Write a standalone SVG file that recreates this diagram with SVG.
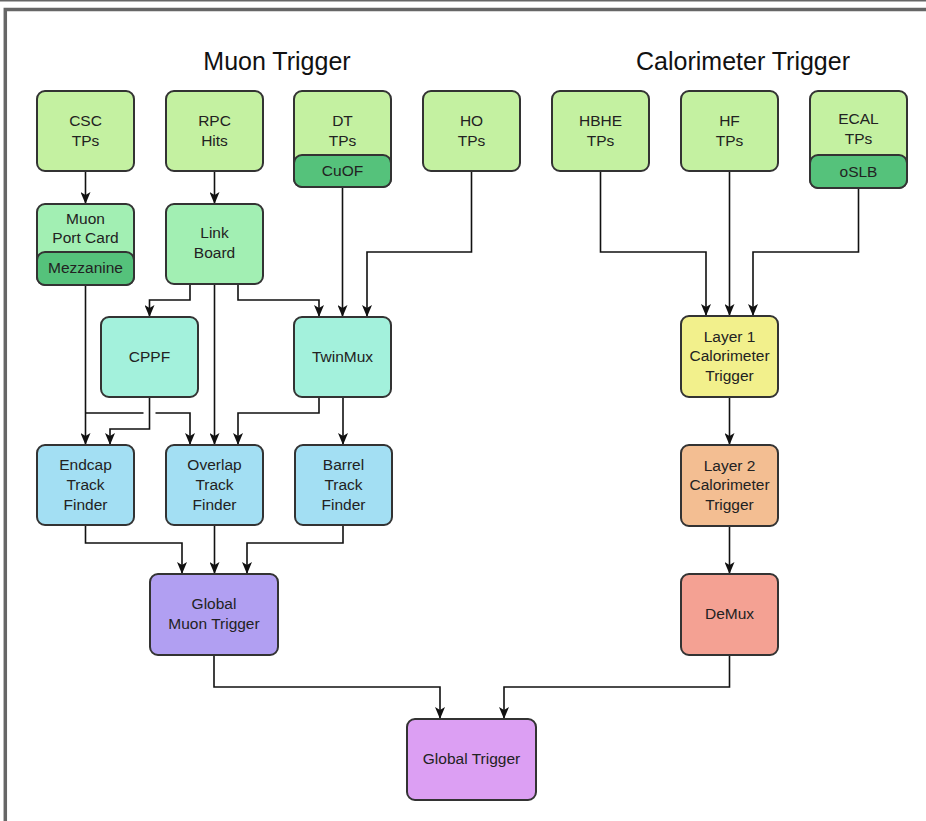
<svg xmlns="http://www.w3.org/2000/svg" width="926" height="821" viewBox="0 0 926 821">
  <defs>
    <marker id="arrow" viewBox="0 0 12 10" refX="12" refY="5" markerWidth="12" markerHeight="10" markerUnits="userSpaceOnUse" orient="auto">
      <path d="M0,0 L12,5 L0,10 L3,5 Z" fill="#111"/>
    </marker>
    <style>
      .box { stroke: #333; stroke-width: 2; }
      .tp { fill: #c4f1a1; }
      .band { fill: #55c27b; }
      .card { fill: #a2efb3; }
      .mux { fill: #a3f1dc; }
      .tf { fill: #a3dff3; }
      .gmt { fill: #b19ff2; }
      .l1 { fill: #f2f08c; }
      .l2 { fill: #f3be92; }
      .demux { fill: #f4a193; }
      .gt { fill: #dc9ff3; }
      .lbl { font-family: "Liberation Sans", Arial, sans-serif; font-size: 15.5px; fill: #222; text-anchor: middle; }
      .title { font-family: "Liberation Sans", Arial, sans-serif; font-size: 25px; fill: #111; text-anchor: middle; }
      .conn { fill: none; stroke: #111; stroke-width: 1.6; }
    </style>
  </defs>

  <rect width="926" height="821" fill="#fff"/>
  <!-- page frame -->
  <line x1="0" y1="0.8" x2="926" y2="0.8" stroke="#666" stroke-width="1.6"/>
  <path d="M5.3,830 V9.5 H935" fill="none" stroke="#666" stroke-width="3.5"/>

  <text class="title" x="277" y="70">Muon Trigger</text>
  <text class="title" x="743" y="70">Calorimeter Trigger</text>

  <!-- connectors -->
  <g id="connectors">
    <path class="conn" d="M85.5,171 V204" marker-end="url(#arrow)"/>
    <path class="conn" d="M214.5,171 V204" marker-end="url(#arrow)"/>
    <path class="conn" d="M342.5,187 V317" marker-end="url(#arrow)"/>
    <path class="conn" d="M471.5,171 V252 H367 V317" marker-end="url(#arrow)"/>
    <path class="conn" d="M190,284 V300 H149.5 V317" marker-end="url(#arrow)"/>
    <path class="conn" d="M238,284 V300 H319 V317" marker-end="url(#arrow)"/>
    <path class="conn" d="M214.5,284 V445" marker-end="url(#arrow)"/>
    <path class="conn" d="M85.5,285 V445" marker-end="url(#arrow)"/>
    <path class="conn" d="M85.5,413 H143.5 M155.5,413 H190 V445" marker-end="url(#arrow)"/>
    <path class="conn" d="M149.5,397 V429 H110 V445" marker-end="url(#arrow)"/>
    <path class="conn" d="M319,397 V413 H238 V445" marker-end="url(#arrow)"/>
    <path class="conn" d="M343,397 V445" marker-end="url(#arrow)"/>
    <path class="conn" d="M85.5,525 V543 H182 V574" marker-end="url(#arrow)"/>
    <path class="conn" d="M214.5,525 V574" marker-end="url(#arrow)"/>
    <path class="conn" d="M343,525 V543 H247 V574" marker-end="url(#arrow)"/>
    <path class="conn" d="M214,655 V687 H440 V719" marker-end="url(#arrow)"/>
    <path class="conn" d="M729.5,655 V687 H504 V719" marker-end="url(#arrow)"/>
    <path class="conn" d="M600.5,171 V252 H706 V316" marker-end="url(#arrow)"/>
    <path class="conn" d="M729.5,171 V316" marker-end="url(#arrow)"/>
    <path class="conn" d="M858.5,188 V252 H753 V316" marker-end="url(#arrow)"/>
    <path class="conn" d="M729.5,397 V445" marker-end="url(#arrow)"/>
    <path class="conn" d="M729.5,526 V574" marker-end="url(#arrow)"/>
  </g>

  <!-- muon inputs -->
  <g id="csc-tps">
    <rect class="box tp" x="37" y="91" width="97" height="80" rx="8"/>
    <text class="lbl" x="85.5" y="126">CSC</text>
    <text class="lbl" x="85.5" y="146">TPs</text>
  </g>
  <g id="rpc-hits">
    <rect class="box tp" x="166" y="91" width="97" height="80" rx="8"/>
    <text class="lbl" x="214.5" y="126">RPC</text>
    <text class="lbl" x="214.5" y="146">Hits</text>
  </g>
  <g id="dt-tps">
    <rect class="box tp" x="294" y="91" width="97" height="96" rx="8"/>
    <rect class="box band" x="294" y="155" width="97" height="32" rx="8"/>
    <text class="lbl" x="342.5" y="126">DT</text>
    <text class="lbl" x="342.5" y="146">TPs</text>
    <text class="lbl" x="342.5" y="176">CuOF</text>
  </g>
  <g id="ho-tps">
    <rect class="box tp" x="423" y="91" width="97" height="80" rx="8"/>
    <text class="lbl" x="471.5" y="126">HO</text>
    <text class="lbl" x="471.5" y="146">TPs</text>
  </g>

  <!-- calorimeter inputs -->
  <g id="hbhe-tps">
    <rect class="box tp" x="552" y="91" width="97" height="80" rx="8"/>
    <text class="lbl" x="600.5" y="126">HBHE</text>
    <text class="lbl" x="600.5" y="146">TPs</text>
  </g>
  <g id="hf-tps">
    <rect class="box tp" x="681" y="91" width="97" height="80" rx="8"/>
    <text class="lbl" x="729.5" y="126">HF</text>
    <text class="lbl" x="729.5" y="146">TPs</text>
  </g>
  <g id="ecal-tps">
    <rect class="box tp" x="810" y="91" width="97" height="97" rx="8"/>
    <rect class="box band" x="810" y="155" width="97" height="33" rx="8"/>
    <text class="lbl" x="858.5" y="124">ECAL</text>
    <text class="lbl" x="858.5" y="144">TPs</text>
    <text class="lbl" x="858.5" y="177">oSLB</text>
  </g>

  <!-- muon processing -->
  <g id="muon-port-card">
    <rect class="box card" x="37" y="204" width="97" height="81" rx="8"/>
    <rect class="box band" x="37" y="252" width="97" height="33" rx="8"/>
    <text class="lbl" x="85.5" y="224">Muon</text>
    <text class="lbl" x="85.5" y="243">Port Card</text>
    <text class="lbl" x="85.5" y="273">Mezzanine</text>
  </g>
  <g id="link-board">
    <rect class="box card" x="166" y="204" width="97" height="80" rx="8"/>
    <text class="lbl" x="214.5" y="238">Link</text>
    <text class="lbl" x="214.5" y="258">Board</text>
  </g>
  <g id="cppf">
    <rect class="box mux" x="101" y="317" width="97" height="80" rx="8"/>
    <text class="lbl" x="149.5" y="362">CPPF</text>
  </g>
  <g id="twinmux">
    <rect class="box mux" x="294" y="317" width="97" height="80" rx="8"/>
    <text class="lbl" x="342.5" y="362">TwinMux</text>
  </g>
  <g id="endcap-tf">
    <rect class="box tf" x="37" y="445" width="97" height="80" rx="8"/>
    <text class="lbl" x="85.5" y="470">Endcap</text>
    <text class="lbl" x="85.5" y="490">Track</text>
    <text class="lbl" x="85.5" y="510">Finder</text>
  </g>
  <g id="overlap-tf">
    <rect class="box tf" x="166" y="445" width="97" height="80" rx="8"/>
    <text class="lbl" x="214.5" y="470">Overlap</text>
    <text class="lbl" x="214.5" y="490">Track</text>
    <text class="lbl" x="214.5" y="510">Finder</text>
  </g>
  <g id="barrel-tf">
    <rect class="box tf" x="295" y="445" width="97" height="80" rx="8"/>
    <text class="lbl" x="343.5" y="470">Barrel</text>
    <text class="lbl" x="343.5" y="490">Track</text>
    <text class="lbl" x="343.5" y="510">Finder</text>
  </g>
  <g id="global-muon-trigger">
    <rect class="box gmt" x="150" y="574" width="128" height="81" rx="8"/>
    <text class="lbl" x="214" y="609">Global</text>
    <text class="lbl" x="214" y="629">Muon Trigger</text>
  </g>

  <!-- calorimeter processing -->
  <g id="layer1-calo">
    <rect class="box l1" x="681" y="316" width="97" height="81" rx="8"/>
    <text class="lbl" x="729.5" y="342">Layer 1</text>
    <text class="lbl" x="729.5" y="361">Calorimeter</text>
    <text class="lbl" x="729.5" y="381">Trigger</text>
  </g>
  <g id="layer2-calo">
    <rect class="box l2" x="681" y="445" width="97" height="81" rx="8"/>
    <text class="lbl" x="729.5" y="471">Layer 2</text>
    <text class="lbl" x="729.5" y="490">Calorimeter</text>
    <text class="lbl" x="729.5" y="510">Trigger</text>
  </g>
  <g id="demux">
    <rect class="box demux" x="681" y="574" width="97" height="81" rx="8"/>
    <text class="lbl" x="729.5" y="619">DeMux</text>
  </g>

  <g id="global-trigger">
    <rect class="box gt" x="407" y="719" width="129" height="81" rx="8"/>
    <text class="lbl" x="471.5" y="764">Global Trigger</text>
  </g>
</svg>
